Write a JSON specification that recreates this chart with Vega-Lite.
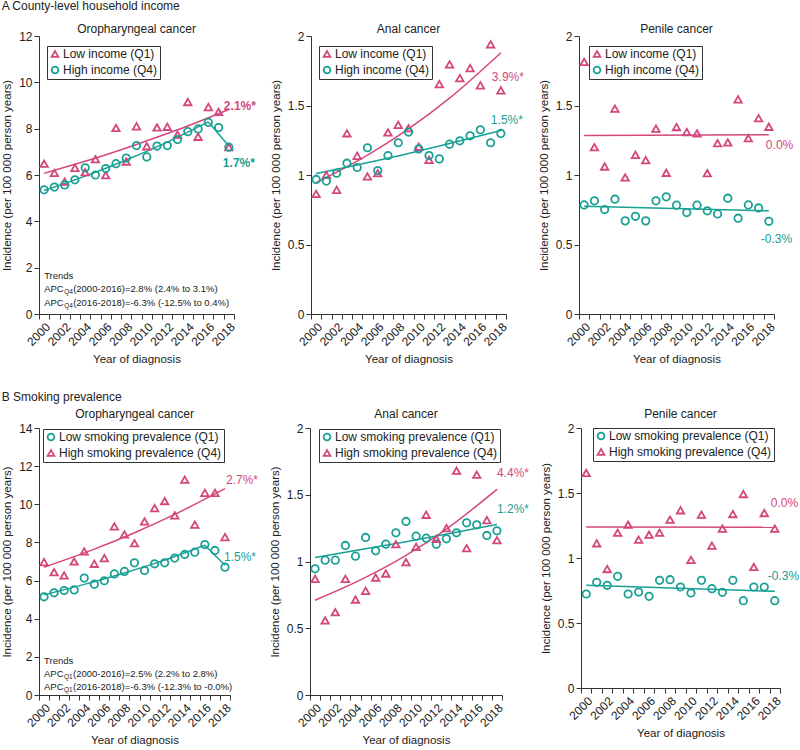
{
"$schema": "https://vega.github.io/schema/vega-lite/v6.json",
"padding": {"left": 1, "top": 0, "right": 0, "bottom": 0},
"config": {
  "font": "Liberation Sans",
  "view": {"stroke": null},
  "axis": {"grid": false, "domainColor": "#333", "tickColor": "#333", "labelColor": "#222", "titleColor": "#222", "labelFontSize": 12, "titleFontSize": 11.5, "titleFontWeight": "normal", "tickSize": 5, "labelPadding": 2, "titlePadding": 6, "domainWidth": 1, "tickWidth": 1},
  "axisX": {"titlePadding": 6},
  "title": {"fontSize": 12, "fontWeight": "normal", "color": "#222"},
  "legend": {"labelFontSize": 12, "labelColor": "#222", "strokeColor": "#333", "padding": 2, "rowPadding": 2, "symbolSize": 45, "symbolStrokeWidth": 1.8, "labelOffset": 2, "labelLimit": 300, "fillColor": "white", "orient": "none"}
},
"datasets": {
  "points": [
    {"panel":"A1","quartile":"Q1","year":2000,"value":6.49},{"panel":"A1","quartile":"Q1","year":2001,"value":6.09},{"panel":"A1","quartile":"Q1","year":2002,"value":5.71},{"panel":"A1","quartile":"Q1","year":2003,"value":6.31},{"panel":"A1","quartile":"Q1","year":2004,"value":6.12},{"panel":"A1","quartile":"Q1","year":2005,"value":6.68},{"panel":"A1","quartile":"Q1","year":2006,"value":5.99},{"panel":"A1","quartile":"Q1","year":2007,"value":8.03},{"panel":"A1","quartile":"Q1","year":2008,"value":6.58},{"panel":"A1","quartile":"Q1","year":2009,"value":8.10},{"panel":"A1","quartile":"Q1","year":2010,"value":7.24},{"panel":"A1","quartile":"Q1","year":2011,"value":8.05},{"panel":"A1","quartile":"Q1","year":2012,"value":8.08},{"panel":"A1","quartile":"Q1","year":2013,"value":7.74},{"panel":"A1","quartile":"Q1","year":2014,"value":9.15},{"panel":"A1","quartile":"Q1","year":2015,"value":7.65},{"panel":"A1","quartile":"Q1","year":2016,"value":8.93},{"panel":"A1","quartile":"Q1","year":2017,"value":8.72},{"panel":"A1","quartile":"Q1","year":2018,"value":7.20},
    {"panel":"A1","quartile":"Q4","year":2000,"value":5.36},{"panel":"A1","quartile":"Q4","year":2001,"value":5.48},{"panel":"A1","quartile":"Q4","year":2002,"value":5.57},{"panel":"A1","quartile":"Q4","year":2003,"value":5.79},{"panel":"A1","quartile":"Q4","year":2004,"value":6.31},{"panel":"A1","quartile":"Q4","year":2005,"value":6.00},{"panel":"A1","quartile":"Q4","year":2006,"value":6.28},{"panel":"A1","quartile":"Q4","year":2007,"value":6.49},{"panel":"A1","quartile":"Q4","year":2008,"value":6.73},{"panel":"A1","quartile":"Q4","year":2009,"value":7.27},{"panel":"A1","quartile":"Q4","year":2010,"value":6.78},{"panel":"A1","quartile":"Q4","year":2011,"value":7.25},{"panel":"A1","quartile":"Q4","year":2012,"value":7.27},{"panel":"A1","quartile":"Q4","year":2013,"value":7.53},{"panel":"A1","quartile":"Q4","year":2014,"value":7.87},{"panel":"A1","quartile":"Q4","year":2015,"value":7.99},{"panel":"A1","quartile":"Q4","year":2016,"value":8.27},{"panel":"A1","quartile":"Q4","year":2017,"value":8.05},{"panel":"A1","quartile":"Q4","year":2018,"value":7.20},
    {"panel":"A2","quartile":"Q1","year":2000,"value":0.864},{"panel":"A2","quartile":"Q1","year":2001,"value":1.0},{"panel":"A2","quartile":"Q1","year":2002,"value":0.893},{"panel":"A2","quartile":"Q1","year":2003,"value":1.30},{"panel":"A2","quartile":"Q1","year":2004,"value":1.138},{"panel":"A2","quartile":"Q1","year":2005,"value":0.99},{"panel":"A2","quartile":"Q1","year":2006,"value":1.013},{"panel":"A2","quartile":"Q1","year":2007,"value":1.306},{"panel":"A2","quartile":"Q1","year":2008,"value":1.361},{"panel":"A2","quartile":"Q1","year":2009,"value":1.337},{"panel":"A2","quartile":"Q1","year":2010,"value":1.203},{"panel":"A2","quartile":"Q1","year":2011,"value":1.109},{"panel":"A2","quartile":"Q1","year":2012,"value":1.654},{"panel":"A2","quartile":"Q1","year":2013,"value":1.796},{"panel":"A2","quartile":"Q1","year":2014,"value":1.697},{"panel":"A2","quartile":"Q1","year":2015,"value":1.769},{"panel":"A2","quartile":"Q1","year":2016,"value":1.645},{"panel":"A2","quartile":"Q1","year":2017,"value":1.94},{"panel":"A2","quartile":"Q1","year":2018,"value":1.609},
    {"panel":"A2","quartile":"Q4","year":2000,"value":0.968},{"panel":"A2","quartile":"Q4","year":2001,"value":0.956},{"panel":"A2","quartile":"Q4","year":2002,"value":1.013},{"panel":"A2","quartile":"Q4","year":2003,"value":1.085},{"panel":"A2","quartile":"Q4","year":2004,"value":1.054},{"panel":"A2","quartile":"Q4","year":2005,"value":1.196},{"panel":"A2","quartile":"Q4","year":2006,"value":1.032},{"panel":"A2","quartile":"Q4","year":2007,"value":1.14},{"panel":"A2","quartile":"Q4","year":2008,"value":1.232},{"panel":"A2","quartile":"Q4","year":2009,"value":1.309},{"panel":"A2","quartile":"Q4","year":2010,"value":1.188},{"panel":"A2","quartile":"Q4","year":2011,"value":1.14},{"panel":"A2","quartile":"Q4","year":2012,"value":1.116},{"panel":"A2","quartile":"Q4","year":2013,"value":1.222},{"panel":"A2","quartile":"Q4","year":2014,"value":1.246},{"panel":"A2","quartile":"Q4","year":2015,"value":1.282},{"panel":"A2","quartile":"Q4","year":2016,"value":1.325},{"panel":"A2","quartile":"Q4","year":2017,"value":1.232},{"panel":"A2","quartile":"Q4","year":2018,"value":1.299},
    {"panel":"A3","quartile":"Q1","year":2000,"value":1.813},{"panel":"A3","quartile":"Q1","year":2001,"value":1.20},{"panel":"A3","quartile":"Q1","year":2002,"value":1.061},{"panel":"A3","quartile":"Q1","year":2003,"value":1.477},{"panel":"A3","quartile":"Q1","year":2004,"value":0.982},{"panel":"A3","quartile":"Q1","year":2005,"value":1.145},{"panel":"A3","quartile":"Q1","year":2006,"value":1.107},{"panel":"A3","quartile":"Q1","year":2007,"value":1.333},{"panel":"A3","quartile":"Q1","year":2008,"value":1.016},{"panel":"A3","quartile":"Q1","year":2009,"value":1.345},{"panel":"A3","quartile":"Q1","year":2010,"value":1.309},{"panel":"A3","quartile":"Q1","year":2011,"value":1.299},{"panel":"A3","quartile":"Q1","year":2012,"value":1.013},{"panel":"A3","quartile":"Q1","year":2013,"value":1.229},{"panel":"A3","quartile":"Q1","year":2014,"value":1.234},{"panel":"A3","quartile":"Q1","year":2015,"value":1.544},{"panel":"A3","quartile":"Q1","year":2016,"value":1.265},{"panel":"A3","quartile":"Q1","year":2017,"value":1.409},{"panel":"A3","quartile":"Q1","year":2018,"value":1.347},
    {"panel":"A3","quartile":"Q4","year":2000,"value":0.785},{"panel":"A3","quartile":"Q4","year":2001,"value":0.814},{"panel":"A3","quartile":"Q4","year":2002,"value":0.751},{"panel":"A3","quartile":"Q4","year":2003,"value":0.826},{"panel":"A3","quartile":"Q4","year":2004,"value":0.67},{"panel":"A3","quartile":"Q4","year":2005,"value":0.703},{"panel":"A3","quartile":"Q4","year":2006,"value":0.67},{"panel":"A3","quartile":"Q4","year":2007,"value":0.814},{"panel":"A3","quartile":"Q4","year":2008,"value":0.843},{"panel":"A3","quartile":"Q4","year":2009,"value":0.783},{"panel":"A3","quartile":"Q4","year":2010,"value":0.73},{"panel":"A3","quartile":"Q4","year":2011,"value":0.783},{"panel":"A3","quartile":"Q4","year":2012,"value":0.742},{"panel":"A3","quartile":"Q4","year":2013,"value":0.72},{"panel":"A3","quartile":"Q4","year":2014,"value":0.833},{"panel":"A3","quartile":"Q4","year":2015,"value":0.689},{"panel":"A3","quartile":"Q4","year":2016,"value":0.785},{"panel":"A3","quartile":"Q4","year":2017,"value":0.763},{"panel":"A3","quartile":"Q4","year":2018,"value":0.667},
    {"panel":"B1","quartile":"Q4","year":2000,"value":6.97},{"panel":"B1","quartile":"Q4","year":2001,"value":6.44},{"panel":"B1","quartile":"Q4","year":2002,"value":6.27},{"panel":"B1","quartile":"Q4","year":2003,"value":7.0},{"panel":"B1","quartile":"Q4","year":2004,"value":7.53},{"panel":"B1","quartile":"Q4","year":2005,"value":6.88},{"panel":"B1","quartile":"Q4","year":2006,"value":7.18},{"panel":"B1","quartile":"Q4","year":2007,"value":8.84},{"panel":"B1","quartile":"Q4","year":2008,"value":8.42},{"panel":"B1","quartile":"Q4","year":2009,"value":7.96},{"panel":"B1","quartile":"Q4","year":2010,"value":9.1},{"panel":"B1","quartile":"Q4","year":2011,"value":9.8},{"panel":"B1","quartile":"Q4","year":2012,"value":10.17},{"panel":"B1","quartile":"Q4","year":2013,"value":9.42},{"panel":"B1","quartile":"Q4","year":2014,"value":11.29},{"panel":"B1","quartile":"Q4","year":2015,"value":8.93},{"panel":"B1","quartile":"Q4","year":2016,"value":10.6},{"panel":"B1","quartile":"Q4","year":2017,"value":10.6},{"panel":"B1","quartile":"Q4","year":2018,"value":8.28},
    {"panel":"B1","quartile":"Q1","year":2000,"value":5.15},{"panel":"B1","quartile":"Q1","year":2001,"value":5.36},{"panel":"B1","quartile":"Q1","year":2002,"value":5.48},{"panel":"B1","quartile":"Q1","year":2003,"value":5.51},{"panel":"B1","quartile":"Q1","year":2004,"value":6.13},{"panel":"B1","quartile":"Q1","year":2005,"value":5.81},{"panel":"B1","quartile":"Q1","year":2006,"value":5.99},{"panel":"B1","quartile":"Q1","year":2007,"value":6.35},{"panel":"B1","quartile":"Q1","year":2008,"value":6.48},{"panel":"B1","quartile":"Q1","year":2009,"value":6.93},{"panel":"B1","quartile":"Q1","year":2010,"value":6.53},{"panel":"B1","quartile":"Q1","year":2011,"value":6.88},{"panel":"B1","quartile":"Q1","year":2012,"value":6.93},{"panel":"B1","quartile":"Q1","year":2013,"value":7.18},{"panel":"B1","quartile":"Q1","year":2014,"value":7.37},{"panel":"B1","quartile":"Q1","year":2015,"value":7.49},{"panel":"B1","quartile":"Q1","year":2016,"value":7.89},{"panel":"B1","quartile":"Q1","year":2017,"value":7.58},{"panel":"B1","quartile":"Q1","year":2018,"value":6.70},
    {"panel":"B2","quartile":"Q1","year":2000,"value":0.945},{"panel":"B2","quartile":"Q1","year":2001,"value":1.01},{"panel":"B2","quartile":"Q1","year":2002,"value":1.01},{"panel":"B2","quartile":"Q1","year":2003,"value":1.12},{"panel":"B2","quartile":"Q1","year":2004,"value":1.04},{"panel":"B2","quartile":"Q1","year":2005,"value":1.18},{"panel":"B2","quartile":"Q1","year":2006,"value":1.08},{"panel":"B2","quartile":"Q1","year":2007,"value":1.13},{"panel":"B2","quartile":"Q1","year":2008,"value":1.215},{"panel":"B2","quartile":"Q1","year":2009,"value":1.30},{"panel":"B2","quartile":"Q1","year":2010,"value":1.19},{"panel":"B2","quartile":"Q1","year":2011,"value":1.175},{"panel":"B2","quartile":"Q1","year":2012,"value":1.13},{"panel":"B2","quartile":"Q1","year":2013,"value":1.17},{"panel":"B2","quartile":"Q1","year":2014,"value":1.215},{"panel":"B2","quartile":"Q1","year":2015,"value":1.29},{"panel":"B2","quartile":"Q1","year":2016,"value":1.275},{"panel":"B2","quartile":"Q1","year":2017,"value":1.195},{"panel":"B2","quartile":"Q1","year":2018,"value":1.23},
    {"panel":"B2","quartile":"Q4","year":2000,"value":0.87},{"panel":"B2","quartile":"Q4","year":2001,"value":0.558},{"panel":"B2","quartile":"Q4","year":2002,"value":0.62},{"panel":"B2","quartile":"Q4","year":2003,"value":0.87},{"panel":"B2","quartile":"Q4","year":2004,"value":0.715},{"panel":"B2","quartile":"Q4","year":2005,"value":0.78},{"panel":"B2","quartile":"Q4","year":2006,"value":0.88},{"panel":"B2","quartile":"Q4","year":2007,"value":0.91},{"panel":"B2","quartile":"Q4","year":2008,"value":1.13},{"panel":"B2","quartile":"Q4","year":2009,"value":0.995},{"panel":"B2","quartile":"Q4","year":2010,"value":1.11},{"panel":"B2","quartile":"Q4","year":2011,"value":1.35},{"panel":"B2","quartile":"Q4","year":2012,"value":1.17},{"panel":"B2","quartile":"Q4","year":2013,"value":1.25},{"panel":"B2","quartile":"Q4","year":2014,"value":1.68},{"panel":"B2","quartile":"Q4","year":2015,"value":1.10},{"panel":"B2","quartile":"Q4","year":2016,"value":1.65},{"panel":"B2","quartile":"Q4","year":2017,"value":1.31},{"panel":"B2","quartile":"Q4","year":2018,"value":1.16},
    {"panel":"B3","quartile":"Q1","year":2000,"value":0.723},{"panel":"B3","quartile":"Q1","year":2001,"value":0.813},{"panel":"B3","quartile":"Q1","year":2002,"value":0.79},{"panel":"B3","quartile":"Q1","year":2003,"value":0.859},{"panel":"B3","quartile":"Q1","year":2004,"value":0.723},{"panel":"B3","quartile":"Q1","year":2005,"value":0.738},{"panel":"B3","quartile":"Q1","year":2006,"value":0.705},{"panel":"B3","quartile":"Q1","year":2007,"value":0.828},{"panel":"B3","quartile":"Q1","year":2008,"value":0.833},{"panel":"B3","quartile":"Q1","year":2009,"value":0.777},{"panel":"B3","quartile":"Q1","year":2010,"value":0.731},{"panel":"B3","quartile":"Q1","year":2011,"value":0.828},{"panel":"B3","quartile":"Q1","year":2012,"value":0.764},{"panel":"B3","quartile":"Q1","year":2013,"value":0.736},{"panel":"B3","quartile":"Q1","year":2014,"value":0.828},{"panel":"B3","quartile":"Q1","year":2015,"value":0.672},{"panel":"B3","quartile":"Q1","year":2016,"value":0.777},{"panel":"B3","quartile":"Q1","year":2017,"value":0.777},{"panel":"B3","quartile":"Q1","year":2018,"value":0.672},
    {"panel":"B3","quartile":"Q4","year":2000,"value":1.654},{"panel":"B3","quartile":"Q4","year":2001,"value":1.113},{"panel":"B3","quartile":"Q4","year":2002,"value":0.915},{"panel":"B3","quartile":"Q4","year":2003,"value":1.195},{"panel":"B3","quartile":"Q4","year":2004,"value":1.256},{"panel":"B3","quartile":"Q4","year":2005,"value":1.141},{"panel":"B3","quartile":"Q4","year":2006,"value":1.179},{"panel":"B3","quartile":"Q4","year":2007,"value":1.195},{"panel":"B3","quartile":"Q4","year":2008,"value":1.295},{"panel":"B3","quartile":"Q4","year":2009,"value":1.367},{"panel":"B3","quartile":"Q4","year":2010,"value":0.985},{"panel":"B3","quartile":"Q4","year":2011,"value":1.333},{"panel":"B3","quartile":"Q4","year":2012,"value":1.095},{"panel":"B3","quartile":"Q4","year":2013,"value":1.226},{"panel":"B3","quartile":"Q4","year":2014,"value":1.338},{"panel":"B3","quartile":"Q4","year":2015,"value":1.492},{"panel":"B3","quartile":"Q4","year":2016,"value":0.931},{"panel":"B3","quartile":"Q4","year":2017,"value":1.346},{"panel":"B3","quartile":"Q4","year":2018,"value":1.226}
  ],
  "lines": [
    {"panel":"A1","quartile":"Q1","seg":"a","year":2000,"value":6.07},{"panel":"A1","quartile":"Q1","seg":"a","year":2005,"value":6.73},{"panel":"A1","quartile":"Q1","seg":"a","year":2009,"value":7.32},{"panel":"A1","quartile":"Q1","seg":"a","year":2013,"value":7.95},{"panel":"A1","quartile":"Q1","seg":"a","year":2018,"value":8.83},
    {"panel":"A1","quartile":"Q4","seg":"a","year":2000,"value":5.33},{"panel":"A1","quartile":"Q4","seg":"a","year":2004,"value":5.95},{"panel":"A1","quartile":"Q4","seg":"a","year":2008,"value":6.65},{"panel":"A1","quartile":"Q4","seg":"a","year":2012,"value":7.42},{"panel":"A1","quartile":"Q4","seg":"a","year":2016,"value":8.29},
    {"panel":"A1","quartile":"Q4","seg":"b","year":2016,"value":8.29},{"panel":"A1","quartile":"Q4","seg":"b","year":2018,"value":7.25},
    {"panel":"A2","quartile":"Q1","seg":"a","year":2000,"value":0.944},{"panel":"A2","quartile":"Q1","seg":"a","year":2005,"value":1.143},{"panel":"A2","quartile":"Q1","seg":"a","year":2009,"value":1.332},{"panel":"A2","quartile":"Q1","seg":"a","year":2013,"value":1.553},{"panel":"A2","quartile":"Q1","seg":"a","year":2018,"value":1.88},
    {"panel":"A2","quartile":"Q4","seg":"a","year":2000,"value":1.01},{"panel":"A2","quartile":"Q4","seg":"a","year":2009,"value":1.155},{"panel":"A2","quartile":"Q4","seg":"a","year":2018,"value":1.32},
    {"panel":"A3","quartile":"Q1","seg":"a","year":2000,"value":1.284},{"panel":"A3","quartile":"Q1","seg":"a","year":2018,"value":1.29},
    {"panel":"A3","quartile":"Q4","seg":"a","year":2000,"value":0.776},{"panel":"A3","quartile":"Q4","seg":"a","year":2018,"value":0.742},
    {"panel":"B1","quartile":"Q4","seg":"a","year":2000,"value":6.7},{"panel":"B1","quartile":"Q4","seg":"a","year":2005,"value":7.65},{"panel":"B1","quartile":"Q4","seg":"a","year":2009,"value":8.51},{"panel":"B1","quartile":"Q4","seg":"a","year":2013,"value":9.47},{"panel":"B1","quartile":"Q4","seg":"a","year":2018,"value":10.82},
    {"panel":"B1","quartile":"Q1","seg":"a","year":2000,"value":5.25},{"panel":"B1","quartile":"Q1","seg":"a","year":2004,"value":5.8},{"panel":"B1","quartile":"Q1","seg":"a","year":2008,"value":6.4},{"panel":"B1","quartile":"Q1","seg":"a","year":2012,"value":7.07},{"panel":"B1","quartile":"Q1","seg":"a","year":2016,"value":7.85},
    {"panel":"B1","quartile":"Q1","seg":"b","year":2016,"value":7.85},{"panel":"B1","quartile":"Q1","seg":"b","year":2018,"value":6.8},
    {"panel":"B2","quartile":"Q4","seg":"a","year":2000,"value":0.71},{"panel":"B2","quartile":"Q4","seg":"a","year":2005,"value":0.881},{"panel":"B2","quartile":"Q4","seg":"a","year":2009,"value":1.046},{"panel":"B2","quartile":"Q4","seg":"a","year":2013,"value":1.243},{"panel":"B2","quartile":"Q4","seg":"a","year":2018,"value":1.541},
    {"panel":"B2","quartile":"Q1","seg":"a","year":2000,"value":1.03},{"panel":"B2","quartile":"Q1","seg":"a","year":2009,"value":1.148},{"panel":"B2","quartile":"Q1","seg":"a","year":2018,"value":1.277},
    {"panel":"B3","quartile":"Q4","seg":"a","year":2000,"value":1.238},{"panel":"B3","quartile":"Q4","seg":"a","year":2018,"value":1.236},
    {"panel":"B3","quartile":"Q1","seg":"a","year":2000,"value":0.79},{"panel":"B3","quartile":"Q1","seg":"a","year":2018,"value":0.744}
  ],
  "labels": [
    {"panel":"A1","quartile":"Q1","year":2018,"value":9.0,"label":"2.1%*"},{"panel":"A1","quartile":"Q4","year":2018,"value":6.5,"label":"1.7%*"},
    {"panel":"A2","quartile":"Q1","year":2018,"value":1.705,"label":"3.9%*"},{"panel":"A2","quartile":"Q4","year":2018,"value":1.393,"label":"1.5%*"},
    {"panel":"A3","quartile":"Q1","year":2018,"value":1.217,"label":"0.0%"},{"panel":"A3","quartile":"Q4","year":2018,"value":0.54,"label":"-0.3%"},
    {"panel":"B1","quartile":"Q4","year":2018,"value":11.25,"label":"2.7%*"},{"panel":"B1","quartile":"Q1","year":2018,"value":7.23,"label":"1.5%*"},
    {"panel":"B2","quartile":"Q4","year":2018,"value":1.665,"label":"4.4%*"},{"panel":"B2","quartile":"Q1","year":2018,"value":1.39,"label":"1.2%*"},
    {"panel":"B3","quartile":"Q4","year":2018,"value":1.423,"label":"0.0%"},{"panel":"B3","quartile":"Q1","year":2018,"value":0.859,"label":"-0.3%"}
  ],
  "trends": [
    {"panel":"A1","part":"head","year":2000,"value":1.66,"text":"Trends"},
    {"panel":"A1","part":"head","year":2000,"value":1.08,"text":"APC"},
    {"panel":"A1","part":"sub","year":2000,"value":1.08,"text":"Q4"},
    {"panel":"A1","part":"tail","year":2000,"value":1.08,"text":"(2000-2016)=2.8% (2.4% to 3.1%)"},
    {"panel":"A1","part":"head","year":2000,"value":0.48,"text":"APC"},
    {"panel":"A1","part":"sub","year":2000,"value":0.48,"text":"Q4"},
    {"panel":"A1","part":"tail","year":2000,"value":0.48,"text":"(2016-2018)=-6.3% (-12.5% to 0.4%)"},
    {"panel":"B1","part":"head","year":2000,"value":1.80,"text":"Trends"},
    {"panel":"B1","part":"head","year":2000,"value":1.10,"text":"APC"},
    {"panel":"B1","part":"sub","year":2000,"value":1.10,"text":"Q1"},
    {"panel":"B1","part":"tail","year":2000,"value":1.10,"text":"(2000-2016)=2.5% (2.2% to 2.8%)"},
    {"panel":"B1","part":"head","year":2000,"value":0.40,"text":"APC"},
    {"panel":"B1","part":"sub","year":2000,"value":0.40,"text":"Q1"},
    {"panel":"B1","part":"tail","year":2000,"value":0.40,"text":"(2016-2018)=-6.3% (-12.3% to -0.0%)"}
  ]
},
"vconcat": [
{
 "title": {"text": "A  County-level household income", "anchor": "start", "offset": 10},
 "spacing": 14,
 "resolve": {"scale": {"color": "independent", "shape": "independent"}, "legend": {"color": "independent", "shape": "independent"}},
 "hconcat": [
  {
   "width": 195, "height": 278,
   "title": {"text": "Oropharyngeal cancer", "offset": -6},
   "encoding": {
     "x": {"field": "year", "type": "ordinal", "scale": {"type": "band", "paddingInner": 0, "paddingOuter": 0, "domain": [2000,2001,2002,2003,2004,2005,2006,2007,2008,2009,2010,2011,2012,2013,2014,2015,2016,2017,2018]}, "axis": {"title": "Year of diagnosis", "labelAngle": -45, "tickBand": "extent", "labelExpr": "datum.value % 2 == 0 ? datum.label : ''"}},
     "y": {"field": "value", "type": "quantitative", "scale": {"domain": [0, 12], "nice": false}, "axis": {"title": "Incidence (per 100 000 person years)", "values": [0,2,4,6,8,10,12]}}
   },
   "layer": [
    {"data": {"name": "lines"}, "transform": [{"filter": "datum.panel == 'A1'"}], "mark": {"type": "line", "strokeWidth": 1.5, "interpolate": "monotone"}, "encoding": {"detail": {"field": "seg", "type": "nominal"}, "color": {"field": "quartile", "type": "nominal", "scale": {"domain": ["Q1","Q4"], "range": ["#d4477d","#18a094"]}, "legend": {"title": null, "legendX": 8, "legendY": 10, "labelExpr": "datum.value == 'Q1' ? 'Low income (Q1)' : 'High income (Q4)'"}}}},
    {"data": {"name": "points"}, "transform": [{"filter": "datum.panel == 'A1'"}], "mark": {"type": "point", "filled": false, "strokeWidth": 1.8, "size": 55, "opacity": 1}, "encoding": {"color": {"field": "quartile", "type": "nominal", "scale": {"domain": ["Q1","Q4"], "range": ["#d4477d","#18a094"]}, "legend": {"title": null, "legendX": 8, "legendY": 10, "labelExpr": "datum.value == 'Q1' ? 'Low income (Q1)' : 'High income (Q4)'"}}, "shape": {"field": "quartile", "type": "nominal", "scale": {"domain": ["Q1","Q4"], "range": ["triangle-up","circle"]}, "legend": {"title": null, "legendX": 8, "legendY": 10, "labelExpr": "datum.value == 'Q1' ? 'Low income (Q1)' : 'High income (Q4)'"}}}},
    {"data": {"name": "labels"}, "transform": [{"filter": "datum.panel == 'A1' && datum.quartile == 'Q1'"}], "mark": {"type": "text", "align": "left", "dx": -5, "fontSize": 12, "fontWeight": "bold", "color": "#d4477d"}, "encoding": {"text": {"field": "label"}}},
    {"data": {"name": "labels"}, "transform": [{"filter": "datum.panel == 'A1' && datum.quartile == 'Q4'"}], "mark": {"type": "text", "align": "left", "dx": -6, "fontSize": 12, "fontWeight": "bold", "color": "#18a094"}, "encoding": {"text": {"field": "label"}}},
    {"data": {"name": "trends"}, "transform": [{"filter": "datum.panel == 'A1' && datum.part == 'head'"}], "mark": {"type": "text", "align": "left", "dx": 0, "fontSize": 9.5, "color": "#222"}, "encoding": {"text": {"field": "text"}}},
    {"data": {"name": "trends"}, "transform": [{"filter": "datum.panel == 'A1' && datum.part == 'sub'"}], "mark": {"type": "text", "align": "left", "dx": 20, "dy": 3, "fontSize": 6.5, "color": "#222"}, "encoding": {"text": {"field": "text"}}},
    {"data": {"name": "trends"}, "transform": [{"filter": "datum.panel == 'A1' && datum.part == 'tail'"}], "mark": {"type": "text", "align": "left", "dx": 29, "fontSize": 9.5, "color": "#222"}, "encoding": {"text": {"field": "text"}}}
   ]
  },
  {
   "width": 195, "height": 278,
   "title": {"text": "Anal cancer", "offset": -6},
   "encoding": {
     "x": {"field": "year", "type": "ordinal", "scale": {"type": "band", "paddingInner": 0, "paddingOuter": 0, "domain": [2000,2001,2002,2003,2004,2005,2006,2007,2008,2009,2010,2011,2012,2013,2014,2015,2016,2017,2018]}, "axis": {"title": "Year of diagnosis", "labelAngle": -45, "tickBand": "extent", "labelExpr": "datum.value % 2 == 0 ? datum.label : ''"}},
     "y": {"field": "value", "type": "quantitative", "scale": {"domain": [0, 2], "nice": false}, "axis": {"title": "Incidence (per 100 000 person years)", "values": [0,0.5,1,1.5,2], "format": ".1~f"}}
   },
   "layer": [
    {"data": {"name": "lines"}, "transform": [{"filter": "datum.panel == 'A2'"}], "mark": {"type": "line", "strokeWidth": 1.5, "interpolate": "monotone"}, "encoding": {"detail": {"field": "seg", "type": "nominal"}, "color": {"field": "quartile", "type": "nominal", "scale": {"domain": ["Q1","Q4"], "range": ["#d4477d","#18a094"]}, "legend": {"title": null, "legendX": 8, "legendY": 10, "labelExpr": "datum.value == 'Q1' ? 'Low income (Q1)' : 'High income (Q4)'"}}}},
    {"data": {"name": "points"}, "transform": [{"filter": "datum.panel == 'A2'"}], "mark": {"type": "point", "filled": false, "strokeWidth": 1.8, "size": 55, "opacity": 1}, "encoding": {"color": {"field": "quartile", "type": "nominal", "scale": {"domain": ["Q1","Q4"], "range": ["#d4477d","#18a094"]}, "legend": {"title": null, "legendX": 8, "legendY": 10, "labelExpr": "datum.value == 'Q1' ? 'Low income (Q1)' : 'High income (Q4)'"}}, "shape": {"field": "quartile", "type": "nominal", "scale": {"domain": ["Q1","Q4"], "range": ["triangle-up","circle"]}, "legend": {"title": null, "legendX": 8, "legendY": 10, "labelExpr": "datum.value == 'Q1' ? 'Low income (Q1)' : 'High income (Q4)'"}}}},
    {"data": {"name": "labels"}, "transform": [{"filter": "datum.panel == 'A2' && datum.quartile == 'Q1'"}], "mark": {"type": "text", "align": "left", "dx": -9, "fontSize": 12, "color": "#d4477d"}, "encoding": {"text": {"field": "label"}}},
    {"data": {"name": "labels"}, "transform": [{"filter": "datum.panel == 'A2' && datum.quartile == 'Q4'"}], "mark": {"type": "text", "align": "left", "dx": -10, "fontSize": 12, "color": "#18a094"}, "encoding": {"text": {"field": "label"}}}
   ]
  },
  {
   "width": 195, "height": 278,
   "title": {"text": "Penile cancer", "offset": -6},
   "encoding": {
     "x": {"field": "year", "type": "ordinal", "scale": {"type": "band", "paddingInner": 0, "paddingOuter": 0, "domain": [2000,2001,2002,2003,2004,2005,2006,2007,2008,2009,2010,2011,2012,2013,2014,2015,2016,2017,2018]}, "axis": {"title": "Year of diagnosis", "labelAngle": -45, "tickBand": "extent", "labelExpr": "datum.value % 2 == 0 ? datum.label : ''"}},
     "y": {"field": "value", "type": "quantitative", "scale": {"domain": [0, 2], "nice": false}, "axis": {"title": "Incidence (per 100 000 person years)", "values": [0,0.5,1,1.5,2], "format": ".1~f"}}
   },
   "layer": [
    {"data": {"name": "lines"}, "transform": [{"filter": "datum.panel == 'A3'"}], "mark": {"type": "line", "strokeWidth": 1.5, "interpolate": "monotone"}, "encoding": {"detail": {"field": "seg", "type": "nominal"}, "color": {"field": "quartile", "type": "nominal", "scale": {"domain": ["Q1","Q4"], "range": ["#d4477d","#18a094"]}, "legend": {"title": null, "legendX": 10, "legendY": 10, "labelExpr": "datum.value == 'Q1' ? 'Low income (Q1)' : 'High income (Q4)'"}}}},
    {"data": {"name": "points"}, "transform": [{"filter": "datum.panel == 'A3'"}], "mark": {"type": "point", "filled": false, "strokeWidth": 1.8, "size": 55, "opacity": 1}, "encoding": {"color": {"field": "quartile", "type": "nominal", "scale": {"domain": ["Q1","Q4"], "range": ["#d4477d","#18a094"]}, "legend": {"title": null, "legendX": 10, "legendY": 10, "labelExpr": "datum.value == 'Q1' ? 'Low income (Q1)' : 'High income (Q4)'"}}, "shape": {"field": "quartile", "type": "nominal", "scale": {"domain": ["Q1","Q4"], "range": ["triangle-up","circle"]}, "legend": {"title": null, "legendX": 10, "legendY": 10, "labelExpr": "datum.value == 'Q1' ? 'Low income (Q1)' : 'High income (Q4)'"}}}},
    {"data": {"name": "labels"}, "transform": [{"filter": "datum.panel == 'A3' && datum.quartile == 'Q1'"}], "mark": {"type": "text", "align": "left", "dx": -3, "fontSize": 12, "color": "#d4477d"}, "encoding": {"text": {"field": "label"}}},
    {"data": {"name": "labels"}, "transform": [{"filter": "datum.panel == 'A3' && datum.quartile == 'Q4'"}], "mark": {"type": "text", "align": "left", "dx": -8, "fontSize": 12, "color": "#18a094"}, "encoding": {"text": {"field": "label"}}}
   ]
  }
 ]
},
{
 "title": {"text": "B  Smoking prevalence", "anchor": "start", "offset": 4},
 "spacing": 11,
 "resolve": {"scale": {"color": "independent", "shape": "independent"}, "legend": {"color": "independent", "shape": "independent"}},
 "hconcat": [
  {
   "width": 191, "height": 267,
   "title": {"text": "Oropharyngeal cancer", "offset": 1},
   "encoding": {
     "x": {"field": "year", "type": "ordinal", "scale": {"type": "band", "paddingInner": 0, "paddingOuter": 0, "domain": [2000,2001,2002,2003,2004,2005,2006,2007,2008,2009,2010,2011,2012,2013,2014,2015,2016,2017,2018]}, "axis": {"title": "Year of diagnosis", "labelAngle": -45, "tickBand": "extent", "labelExpr": "datum.value % 2 == 0 ? datum.label : ''"}},
     "y": {"field": "value", "type": "quantitative", "scale": {"domain": [0, 14], "nice": false}, "axis": {"title": "Incidence (per 100 000 person years)", "values": [0,2,4,6,8,10,12,14]}}
   },
   "layer": [
    {"data": {"name": "lines"}, "transform": [{"filter": "datum.panel == 'B1'"}], "mark": {"type": "line", "strokeWidth": 1.5, "interpolate": "monotone"}, "encoding": {"detail": {"field": "seg", "type": "nominal"}, "color": {"field": "quartile", "type": "nominal", "scale": {"domain": ["Q1","Q4"], "range": ["#18a094","#d4477d"]}, "legend": {"title": null, "legendX": 4, "legendY": 1, "labelExpr": "datum.value == 'Q1' ? 'Low smoking prevalence (Q1)' : 'High smoking prevalence (Q4)'"}}}},
    {"data": {"name": "points"}, "transform": [{"filter": "datum.panel == 'B1'"}], "mark": {"type": "point", "filled": false, "strokeWidth": 1.8, "size": 55, "opacity": 1}, "encoding": {"color": {"field": "quartile", "type": "nominal", "scale": {"domain": ["Q1","Q4"], "range": ["#18a094","#d4477d"]}, "legend": {"title": null, "legendX": 4, "legendY": 1, "labelExpr": "datum.value == 'Q1' ? 'Low smoking prevalence (Q1)' : 'High smoking prevalence (Q4)'"}}, "shape": {"field": "quartile", "type": "nominal", "scale": {"domain": ["Q1","Q4"], "range": ["circle","triangle-up"]}, "legend": {"title": null, "legendX": 4, "legendY": 1, "labelExpr": "datum.value == 'Q1' ? 'Low smoking prevalence (Q1)' : 'High smoking prevalence (Q4)'"}}}},
    {"data": {"name": "labels"}, "transform": [{"filter": "datum.panel == 'B1' && datum.quartile == 'Q4'"}], "mark": {"type": "text", "align": "left", "dx": 1, "fontSize": 12, "color": "#d4477d"}, "encoding": {"text": {"field": "label"}}},
    {"data": {"name": "labels"}, "transform": [{"filter": "datum.panel == 'B1' && datum.quartile == 'Q1'"}], "mark": {"type": "text", "align": "left", "dx": -1, "fontSize": 12, "color": "#18a094"}, "encoding": {"text": {"field": "label"}}},
    {"data": {"name": "trends"}, "transform": [{"filter": "datum.panel == 'B1' && datum.part == 'head'"}], "mark": {"type": "text", "align": "left", "dx": 0, "fontSize": 9.5, "color": "#222"}, "encoding": {"text": {"field": "text"}}},
    {"data": {"name": "trends"}, "transform": [{"filter": "datum.panel == 'B1' && datum.part == 'sub'"}], "mark": {"type": "text", "align": "left", "dx": 20, "dy": 3, "fontSize": 6.5, "color": "#222"}, "encoding": {"text": {"field": "text"}}},
    {"data": {"name": "trends"}, "transform": [{"filter": "datum.panel == 'B1' && datum.part == 'tail'"}], "mark": {"type": "text", "align": "left", "dx": 29, "fontSize": 9.5, "color": "#222"}, "encoding": {"text": {"field": "text"}}}
   ]
  },
  {
   "width": 192, "height": 267,
   "title": {"text": "Anal cancer", "offset": 1},
   "encoding": {
     "x": {"field": "year", "type": "ordinal", "scale": {"type": "band", "paddingInner": 0, "paddingOuter": 0, "domain": [2000,2001,2002,2003,2004,2005,2006,2007,2008,2009,2010,2011,2012,2013,2014,2015,2016,2017,2018]}, "axis": {"title": "Year of diagnosis", "labelAngle": -45, "tickBand": "extent", "labelExpr": "datum.value % 2 == 0 ? datum.label : ''"}},
     "y": {"field": "value", "type": "quantitative", "scale": {"domain": [0, 2], "nice": false}, "axis": {"title": "Incidence (per 100 000 person years)", "values": [0,0.5,1,1.5,2], "format": ".1~f"}}
   },
   "layer": [
    {"data": {"name": "lines"}, "transform": [{"filter": "datum.panel == 'B2'"}], "mark": {"type": "line", "strokeWidth": 1.5, "interpolate": "monotone"}, "encoding": {"detail": {"field": "seg", "type": "nominal"}, "color": {"field": "quartile", "type": "nominal", "scale": {"domain": ["Q1","Q4"], "range": ["#18a094","#d4477d"]}, "legend": {"title": null, "legendX": 9, "legendY": 1, "labelExpr": "datum.value == 'Q1' ? 'Low smoking prevalence (Q1)' : 'High smoking prevalence (Q4)'"}}}},
    {"data": {"name": "points"}, "transform": [{"filter": "datum.panel == 'B2'"}], "mark": {"type": "point", "filled": false, "strokeWidth": 1.8, "size": 55, "opacity": 1}, "encoding": {"color": {"field": "quartile", "type": "nominal", "scale": {"domain": ["Q1","Q4"], "range": ["#18a094","#d4477d"]}, "legend": {"title": null, "legendX": 9, "legendY": 1, "labelExpr": "datum.value == 'Q1' ? 'Low smoking prevalence (Q1)' : 'High smoking prevalence (Q4)'"}}, "shape": {"field": "quartile", "type": "nominal", "scale": {"domain": ["Q1","Q4"], "range": ["circle","triangle-up"]}, "legend": {"title": null, "legendX": 9, "legendY": 1, "labelExpr": "datum.value == 'Q1' ? 'Low smoking prevalence (Q1)' : 'High smoking prevalence (Q4)'"}}}},
    {"data": {"name": "labels"}, "transform": [{"filter": "datum.panel == 'B2' && datum.quartile == 'Q4'"}], "mark": {"type": "text", "align": "left", "dx": 0, "fontSize": 12, "color": "#d4477d"}, "encoding": {"text": {"field": "label"}}},
    {"data": {"name": "labels"}, "transform": [{"filter": "datum.panel == 'B2' && datum.quartile == 'Q1'"}], "mark": {"type": "text", "align": "left", "dx": 0, "fontSize": 12, "color": "#18a094"}, "encoding": {"text": {"field": "label"}}}
   ]
  },
  {
   "width": 199, "height": 260,
   "title": {"text": "Penile cancer", "offset": 1},
   "encoding": {
     "x": {"field": "year", "type": "ordinal", "scale": {"type": "band", "paddingInner": 0, "paddingOuter": 0, "domain": [2000,2001,2002,2003,2004,2005,2006,2007,2008,2009,2010,2011,2012,2013,2014,2015,2016,2017,2018]}, "axis": {"title": "Year of diagnosis", "labelAngle": -45, "tickBand": "extent", "labelExpr": "datum.value % 2 == 0 ? datum.label : ''"}},
     "y": {"field": "value", "type": "quantitative", "scale": {"domain": [0, 2], "nice": false}, "axis": {"title": "Incidence (per 100 000 person years)", "values": [0,0.5,1,1.5,2], "format": ".1~f"}}
   },
   "layer": [
    {"data": {"name": "lines"}, "transform": [{"filter": "datum.panel == 'B3'"}], "mark": {"type": "line", "strokeWidth": 1.5, "interpolate": "monotone"}, "encoding": {"detail": {"field": "seg", "type": "nominal"}, "color": {"field": "quartile", "type": "nominal", "scale": {"domain": ["Q1","Q4"], "range": ["#18a094","#d4477d"]}, "legend": {"title": null, "legendX": 12, "legendY": 0, "labelExpr": "datum.value == 'Q1' ? 'Low smoking prevalence (Q1)' : 'High smoking prevalence (Q4)'"}}}},
    {"data": {"name": "points"}, "transform": [{"filter": "datum.panel == 'B3'"}], "mark": {"type": "point", "filled": false, "strokeWidth": 1.8, "size": 55, "opacity": 1}, "encoding": {"color": {"field": "quartile", "type": "nominal", "scale": {"domain": ["Q1","Q4"], "range": ["#18a094","#d4477d"]}, "legend": {"title": null, "legendX": 12, "legendY": 0, "labelExpr": "datum.value == 'Q1' ? 'Low smoking prevalence (Q1)' : 'High smoking prevalence (Q4)'"}}, "shape": {"field": "quartile", "type": "nominal", "scale": {"domain": ["Q1","Q4"], "range": ["circle","triangle-up"]}, "legend": {"title": null, "legendX": 12, "legendY": 0, "labelExpr": "datum.value == 'Q1' ? 'Low smoking prevalence (Q1)' : 'High smoking prevalence (Q4)'"}}}},
    {"data": {"name": "labels"}, "transform": [{"filter": "datum.panel == 'B3' && datum.quartile == 'Q4'"}], "mark": {"type": "text", "align": "left", "dx": -4, "fontSize": 12, "color": "#d4477d"}, "encoding": {"text": {"field": "label"}}},
    {"data": {"name": "labels"}, "transform": [{"filter": "datum.panel == 'B3' && datum.quartile == 'Q1'"}], "mark": {"type": "text", "align": "left", "dx": -7, "fontSize": 12, "color": "#18a094"}, "encoding": {"text": {"field": "label"}}}
   ]
  }
 ]
}
],
"spacing": 25,
"resolve": {"scale": {"color": "independent", "shape": "independent"}, "legend": {"color": "independent", "shape": "independent"}}
}
